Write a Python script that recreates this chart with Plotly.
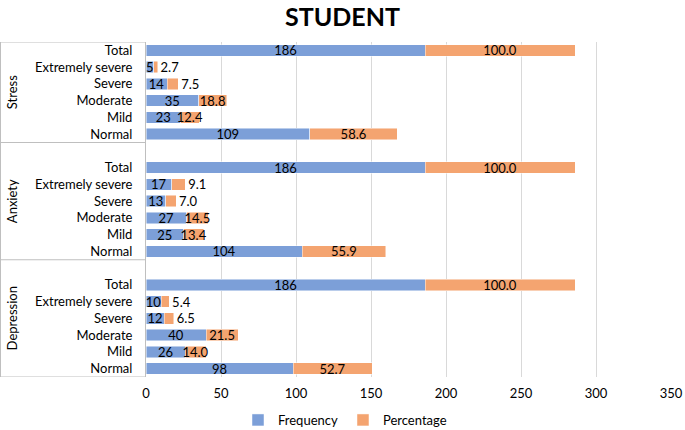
import plotly.graph_objects as go

# ---- data ----
groups = ["Stress", "Anxiety", "Depression"]
levels = ["Total", "Extremely severe", "Severe", "Moderate", "Mild", "Normal"]  # top to bottom
freq_stress = [186, 5, 14, 35, 23, 109]
pct_stress = [100.0, 2.7, 7.5, 18.8, 12.4, 58.6]
freq_anxiety = [186, 17, 13, 27, 25, 104]
pct_anxiety = [100.0, 9.1, 7.0, 14.5, 13.4, 55.9]
freq_depression = [186, 10, 12, 40, 26, 98]
pct_depression = [100.0, 5.4, 6.5, 21.5, 14.0, 52.7]
x_ticks = [0, 50, 100, 150, 200, 250, 300, 350]

freqs = {"Stress": freq_stress, "Anxiety": freq_anxiety, "Depression": freq_depression}
pcts = {"Stress": pct_stress, "Anxiety": pct_anxiety, "Depression": pct_depression}

# build category list bottom-to-top (Excel order), with a blank spacer row above Depression and Anxiety
cat_order = []
ycats, fx, px = [], [], []
for g in reversed(groups):
    for lev, f, p in reversed(list(zip(levels, freqs[g], pcts[g]))):
        cid = g + "|" + lev
        cat_order.append(cid)
        ycats.append(cid)
        fx.append(f)
        px.append(p)
    if g != "Stress":
        cat_order.append(g + "|blank")

tickvals = [c for c in cat_order if not c.endswith("|blank")]
ticktext = [c.split("|")[1] for c in tickvals]

BLUE = "#7C9FD8"
ORANGE = "#F4A470"
FONT = "Lato"

pct_pos = ["inside" if v >= 10 else "outside" for v in px]

fig = go.Figure()
fig.add_trace(go.Bar(
    name="Frequency", y=ycats, x=fx, orientation="h",
    marker=dict(color=BLUE, line=dict(color="rgba(255,255,255,0.6)", width=0.8)),
    text=[str(v) for v in fx], textposition="inside", insidetextanchor="middle",
    textangle=0, constraintext="none",
    textfont=dict(family=FONT, size=13, color="#000000"),
    hoverinfo="x+y",
))
fig.add_trace(go.Bar(
    name="Percentage", y=ycats, x=px, orientation="h",
    marker=dict(color=ORANGE, line=dict(color="rgba(255,255,255,0.6)", width=0.8)),
    text=["%.1f" % v for v in px], textposition=pct_pos, insidetextanchor="middle",
    textangle=0, constraintext="none", cliponaxis=False,
    textfont=dict(family=FONT, size=13, color="#000000"),
    hoverinfo="x+y",
))

L, R, T, B = 146, 14, 42, 53
W, H = 685, 430
pw = W - L - R
ph = H - T - B

def px2paper(xpix):
    return (xpix - L) / pw

def py2paper(ypix):
    return (H - B - ypix) / ph

line_col = "#BFBFBF"
shapes = []
n = len(cat_order)
top = n - 0.5
bot = -0.5
# outer box of the category area
shapes.append(dict(type="line", xref="paper", yref="y", x0=px2paper(0.5), x1=0, y0=top, y1=top,
                   line=dict(color=line_col, width=1)))
shapes.append(dict(type="line", xref="paper", yref="y", x0=px2paper(0.5), x1=px2paper(0.5), y0=top, y1=bot,
                   line=dict(color=line_col, width=1)))
shapes.append(dict(type="line", xref="paper", yref="y", x0=px2paper(0.5), x1=0, y0=bot, y1=bot,
                   line=dict(color=line_col, width=1)))
# group separators
for g in groups[:-1]:
    idx = cat_order.index(g + "|Normal")
    shapes.append(dict(type="line", xref="paper", yref="y", x0=px2paper(0.5), x1=0,
                       y0=idx - 0.5, y1=idx - 0.5, line=dict(color=line_col, width=1)))

annotations = []
for g in groups:
    idxs = [i for i, c in enumerate(cat_order) if c.startswith(g + "|")]
    mid = (min(idxs) + max(idxs)) / 2
    annotations.append(dict(text=g, xref="paper", yref="y", x=px2paper(12), y=mid,
                            showarrow=False, textangle=-90, xanchor="center", yanchor="middle",
                            font=dict(family=FONT, size=13, color="#000000")))

fig.update_layout(
    width=W, height=H,
    margin=dict(l=L, r=R, t=T, b=B, autoexpand=False),
    barmode="stack", bargap=0.3,
    paper_bgcolor="white", plot_bgcolor="white",
    font=dict(family=FONT, size=13, color="#000000"),
    title=dict(text="<b>STUDENT</b>", x=0.5, xanchor="center", y=1 - 17 / H, yanchor="middle",
               font=dict(family=FONT, size=25, color="#000000")),
    xaxis=dict(range=[0, 350], tickvals=x_ticks, showgrid=True, gridcolor="#D9D9D9", gridwidth=1,
               zeroline=False, showline=False, ticks="", automargin=False, ticklabelstandoff=7,
               tickfont=dict(family=FONT, size=13, color="#000000")),
    yaxis=dict(type="category", categoryorder="array", categoryarray=cat_order,
               range=[bot, top], tickvals=tickvals, ticktext=ticktext, automargin=False,
               showgrid=False, zeroline=False, showline=True, linecolor=line_col, linewidth=1,
               ticks="", ticklabelstandoff=10, tickfont=dict(family=FONT, size=13, color="#000000")),
    legend=dict(orientation="h", x=px2paper(345), xanchor="center", y=py2paper(420),
                yanchor="middle", font=dict(family=FONT, size=13, color="#000000"),
                itemwidth=30, traceorder="normal"),
    shapes=shapes, annotations=annotations,
    showlegend=True,
)

fig.write_html("out.html", config={"displayModeBar": False},
               post_script="document.body.style.margin='0';document.body.style.overflow='hidden';")
